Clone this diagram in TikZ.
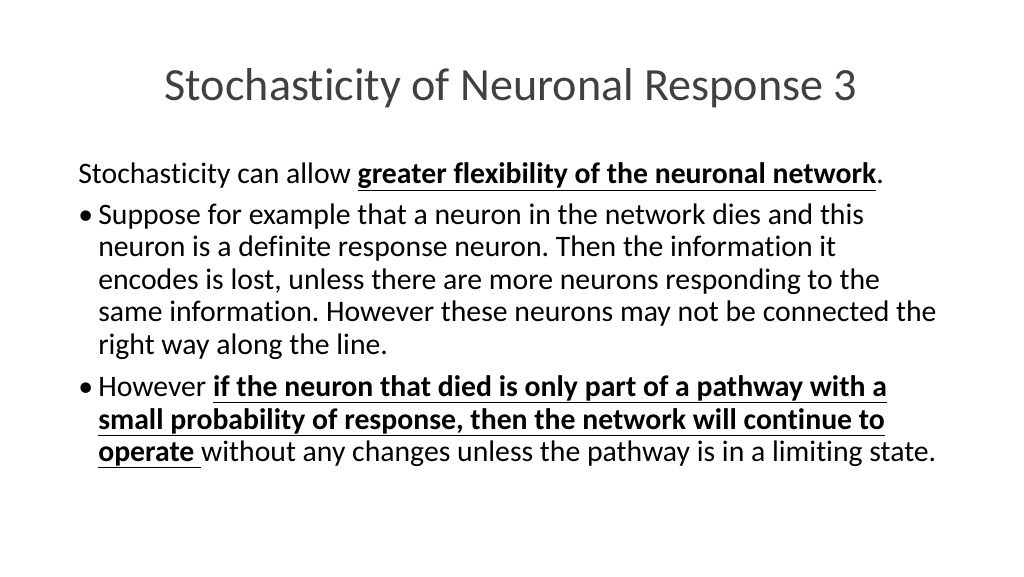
\documentclass[tikz,border=0pt]{standalone}
\usepackage{fontspec}
\setmainfont[RawFeature={-liga}]{Carlito}
\frenchspacing
\tikzstyle{line} = [anchor = base west, inner sep = 0pt, font = \fontsize{22.3}{26}\selectfont]
\tikzstyle{dot} = [anchor = base west, inner sep = 0pt, font = \fontsize{22.3}{26}\selectfont]

\begin{document}
\begin{tikzpicture}[x = 0.75pt, y = -0.75pt]
      \useasboundingbox (0, 0) rectangle (1024, 576);
      % title
      \node (title) at (511, 100) [anchor = base, inner sep = 0pt, text = black!75,
        font = \fontsize{34.6}{40}\selectfont] {Stochasticity of Neuronal Response 3};
      % body
      \node (intro) at (78, 183) [line] {Stochasticity can allow \textbf{\underline{greater flexibility of the neuronal network}}.};
      \node (b1) at (78, 224) [dot] {\textbullet};
      \node (l1) at (98, 224) [line] {Suppose for example that a neuron in the network dies and this};
      \node (l2) at (98, 256) [line] {neuron is a definite response neuron. Then the information it};
      \node (l3) at (98, 289) [line] {encodes is lost, unless there are more neurons responding to the};
      \node (l4) at (98, 321) [line] {same information. However these neurons may not be connected the};
      \node (l5) at (98, 354) [line] {right way along the line.};
      \node (b2) at (78, 396) [dot] {\textbullet};
      \node (m1) at (98, 396) [line] {However \textbf{\underline{if the neuron that died is only part of a pathway with a}}};
      \node (m2) at (98, 429) [line] {\textbf{\underline{small probability of response, then the network will continue to}}};
      \node (m3) at (98, 461) [line] {\textbf{\underline{operate }}without any changes unless the pathway is in a limiting state.};
\end{tikzpicture}
\end{document}
